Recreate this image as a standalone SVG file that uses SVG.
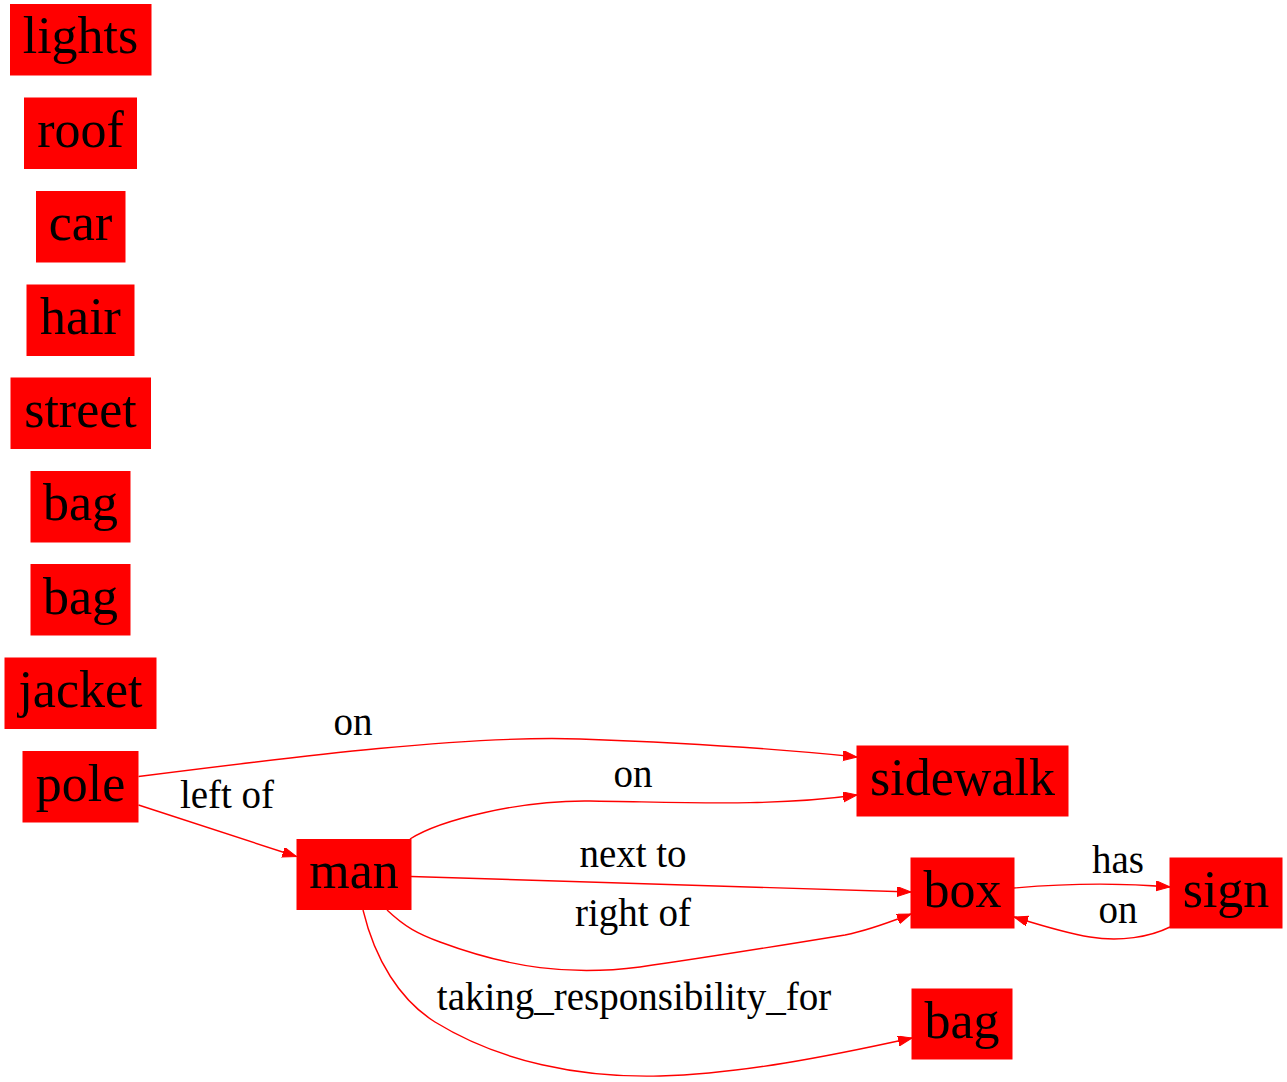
<svg xmlns="http://www.w3.org/2000/svg" width="1287" height="1082" viewBox="0 0 1287 1082">
<style>
.n rect{fill:#ff0000;stroke:#ff0000;stroke-width:1}
.n text{font-family:"Liberation Serif","Times New Roman",serif;font-size:52px;fill:#000;text-anchor:middle}
.e path{fill:none;stroke:#ff0000;stroke-width:1.4}
.l{font-family:"Liberation Serif","Times New Roman",serif;font-size:39px;fill:#000;text-anchor:middle}
</style>
<defs>
<marker id="ah" markerUnits="userSpaceOnUse" markerWidth="16" markerHeight="12" refX="14" refY="5" orient="auto" viewBox="0 0 16 12">
<path d="M0,0 L14,5 L0,10 Z" fill="#ff0000" stroke="#ff0000" stroke-width="1"/>
</marker>
</defs>
<rect width="1287" height="1082" fill="#fff"/>
<g id="lights" class="n"><rect x="10.5" y="4.5" width="140.5" height="70.5"/><text x="80.5" y="53.3">lights</text></g>
<g id="roof" class="n"><rect x="24.5" y="98" width="112" height="70.5"/><text x="80.5" y="146.8">roof</text></g>
<g id="car" class="n"><rect x="36.5" y="191.5" width="88.5" height="70.5"/><text x="80.5" y="240.2">car</text></g>
<g id="hair" class="n"><rect x="27" y="285" width="107" height="70.5"/><text x="80.5" y="333.6">hair</text></g>
<g id="street" class="n"><rect x="11" y="378" width="139.5" height="70.5"/><text x="80.5" y="427">street</text></g>
<g id="bag1" class="n"><rect x="31" y="471.5" width="99" height="70.5"/><text x="80.5" y="520.3">bag</text></g>
<g id="bag2" class="n"><rect x="31" y="564.5" width="99" height="70.5"/><text x="80.5" y="613.7">bag</text></g>
<g id="jacket" class="n"><rect x="5" y="658" width="151" height="70.5"/><text x="80.5" y="707.1">jacket</text></g>
<g id="pole" class="n"><rect x="23" y="751.5" width="115" height="70.5"/><text x="80.5" y="800.5">pole</text></g>
<g id="man" class="n"><rect x="297" y="839.5" width="114" height="70"/><text x="354" y="888">man</text></g>
<g id="sidewalk" class="n"><rect x="857" y="746" width="211" height="70"/><text x="962.5" y="795">sidewalk</text></g>
<g id="box" class="n"><rect x="911" y="858" width="103" height="70"/><text x="962.5" y="907">box</text></g>
<g id="sign" class="n"><rect x="1170" y="858" width="112" height="70"/><text x="1226" y="907">sign</text></g>
<g id="bag3" class="n"><rect x="912" y="989" width="100" height="70"/><text x="962" y="1038">bag</text></g>
<g id="edges" class="e">
<path d="M138.5,776.5 C300,756 470,735 580,739 C690,743 790,750 857,757" marker-end="url(#ah)"/>
<path d="M138.5,805 L296.5,856.5" marker-end="url(#ah)"/>
<path d="M410,839 C440,820 520,800 590,801 C680,802 770,807 857,795" marker-end="url(#ah)"/>
<path d="M411,876.5 L911,892" marker-end="url(#ah)"/>
<path d="M387,910 C405,927 418,934 440,942 C510,968 570,976 640,967 C710,957 790,944 845,935 C870,930 890,922 911,914" marker-end="url(#ah)"/>
<path d="M363,910 C375,960 400,1000 435,1022 C500,1062 580,1078 660,1076 C740,1074 830,1056 912,1038" marker-end="url(#ah)"/>
<path d="M1014,888 C1060,884 1110,882 1170,887" marker-end="url(#ah)"/>
<path d="M1170,927 C1150,937 1120,942 1090,937 C1065,933 1040,925 1014,917" marker-end="url(#ah)"/>
</g>
<g id="labels">
<text class="l" x="353" y="735">on</text>
<text class="l" x="227" y="808">left of</text>
<text class="l" x="633" y="787">on</text>
<text class="l" x="633" y="867">next to</text>
<text class="l" x="633" y="926">right of</text>
<text class="l" x="634" y="1010">taking_responsibility_for</text>
<text class="l" x="1118" y="873">has</text>
<text class="l" x="1118" y="923">on</text>
</g>
</svg>
